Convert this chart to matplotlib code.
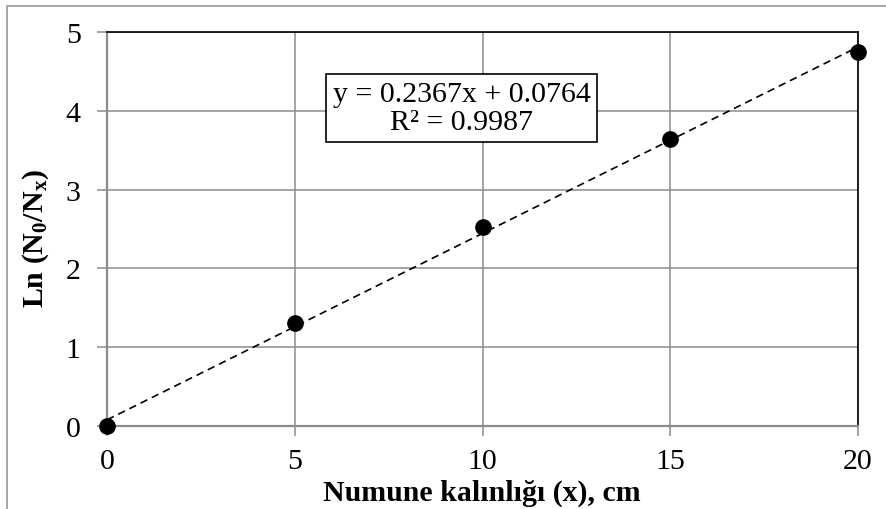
import matplotlib
matplotlib.use("Agg")
import matplotlib.pyplot as plt
import matplotlib.patches as patches
import numpy as np

x_vals = [0, 5, 10, 15, 20]
y_vals = [0.0, 1.31, 2.52, 3.64, 4.75]
x_ticks = [0, 5, 10, 15, 20]
y_ticks = [0, 1, 2, 3, 4, 5]
eq_text = "y = 0.2367x + 0.0764\nR² = 0.9987"
x_label = "Numune kalınlığı (x), cm"
y_label = r"Ln (N$_\mathbf{0}$/N$_\mathbf{x}$)"

plt.rcParams['font.family'] = ['Liberation Serif', 'DejaVu Serif']
plt.rcParams['mathtext.fontset'] = 'custom'
plt.rcParams['mathtext.rm'] = 'Liberation Serif'
plt.rcParams['mathtext.bf'] = 'Liberation Serif:bold'
plt.rcParams['mathtext.it'] = 'Liberation Serif:italic'

W, H = 887, 510
fig = plt.figure(figsize=(W / 100, H / 100), dpi=100)
ax = fig.add_axes([107 / W, 1 - 427 / H, (858 - 107) / W, (427 - 33) / H])

# outer chart border (cropped at right/bottom)
fig.patches.append(patches.Rectangle((7 / W, -0.2), 2, 1 - 7 / H + 0.2,
                                     transform=fig.transFigure, fill=False,
                                     edgecolor='#a0a0a0', linewidth=1.3))

ax.set_xlim(0, 20)
ax.set_ylim(0, 5)
ax.set_xticks(x_ticks)
ax.set_yticks(y_ticks)
ax.grid(True, color='#8c8c8c', linewidth=1.1)
ax.set_axisbelow(True)

# trendline from linear fit of the data
coef = np.polyfit(x_vals, y_vals, 1)
xl = np.array([0, 20])
ax.plot(xl, np.polyval(coef, xl), color='black', linewidth=1.2,
        linestyle=(0, (4.5, 3)), zorder=3, clip_on=False)

ax.plot(x_vals, y_vals, 'o', color='black', markersize=11, zorder=4, clip_on=False)

for s in ['top', 'right']:
    ax.spines[s].set_color('black')
    ax.spines[s].set_linewidth(1.2)
for s in ['left', 'bottom']:
    ax.spines[s].set_color('#8c8c8c')
    ax.spines[s].set_linewidth(1.6)
    ax.spines[s].set_zorder(2.5)

ax.tick_params(axis='both', direction='out', length=7, width=1.1, color='#8c8c8c',
               labelsize=21.5, labelcolor='black')
ax.tick_params(axis='x', pad=9)
ax.tick_params(axis='y', pad=12)

ax.set_xlabel(x_label, fontsize=21.5, fontweight='bold')
ax.xaxis.set_label_coords(482 / W, 1 - 493 / H, transform=fig.transFigure)
ax.xaxis.label.set_va('center')
ax.set_ylabel(y_label, fontsize=21.5, fontweight='bold')
ax.yaxis.set_label_coords(36 / W, 1 - 239 / H, transform=fig.transFigure)
ax.yaxis.label.set_va('center')

ax.text(9.44, 4.035, eq_text, fontsize=21.5, ha='center', va='center',
        linespacing=1.12, zorder=5,
        bbox=dict(boxstyle='square,pad=0.22', facecolor='white', edgecolor='black',
                  linewidth=1.2))

fig.savefig('out.png', dpi=100)
